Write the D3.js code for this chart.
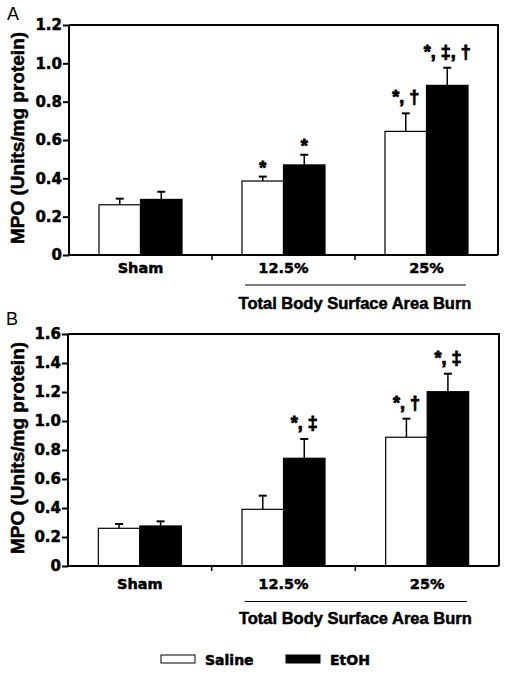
<!DOCTYPE html>
<html>
<head>
<meta charset="utf-8">
<script src="https://cdn.jsdelivr.net/npm/d3@7"></script>
<style>
  html, body { margin: 0; padding: 0; background: #fff; }
  svg { display: block; }
  .heavy { stroke: #000; stroke-width: 0.5px; paint-order: stroke; }
  .heavier { stroke: #000; stroke-width: 0.9px; paint-order: stroke; }
</style>
</head>
<body>
<svg id="chart" width="506" height="675"></svg>
<script>
// ---------------- data ----------------
const categories = ["Sham", "12.5%", "25%"];
const seriesNames = ["Saline", "EtOH"];

// Panel A
const panelA_yTicks = ["0", "0.2", "0.4", "0.6", "0.8", "1.0", "1.2"];
const panelA_saline = [0.262, 0.386, 0.645];
const panelA_salineErr = [0.032, 0.023, 0.094];
const panelA_etoh = [0.290, 0.470, 0.885];
const panelA_etohErr = [0.040, 0.053, 0.092];
const panelA_salineSig = ["", "*", "*, \u2020"];
const panelA_etohSig = ["", "*", "*, \u2021, \u2020"];

// Panel B
const panelB_yTicks = ["0", "0.2", "0.4", "0.6", "0.8", "1.0", "1.2", "1.4", "1.6"];
const panelB_saline = [0.260, 0.391, 0.888];
const panelB_salineErr = [0.030, 0.094, 0.128];
const panelB_etoh = [0.276, 0.743, 1.202];
const panelB_etohErr = [0.032, 0.133, 0.124];
const panelB_salineSig = ["", "", "*, \u2020"];
const panelB_etohSig = ["", "*, \u2021", "*, \u2021"];

const yLabel = "MPO (Units/mg protein)";
const groupLabel = "Total Body Surface Area Burn";

// ---------------- layout ----------------
const svg = d3.select("#chart");
const ARIAL = "'Liberation Sans', Arial, Helvetica, sans-serif";
const DEJAVU = "'DejaVu Sans', 'Liberation Sans', Arial, sans-serif";

const panels = [
  { letter: "A", letterY: 20, letterX: 7, left: 69, right: 498, top: 25, bottom: 255,
    ticks: panelA_yTicks, saline: panelA_saline, salineErr: panelA_salineErr,
    etoh: panelA_etoh, etohErr: panelA_etohErr, salineSig: panelA_salineSig, etohSig: panelA_etohSig,
    catY: 273, lineY: 285, groupY: 308.5 },
  { letter: "B", letterY: 325, letterX: 6, left: 68, right: 499, top: 334, bottom: 566,
    ticks: panelB_yTicks, saline: panelB_saline, salineErr: panelB_salineErr,
    etoh: panelB_etoh, etohErr: panelB_etohErr, salineSig: panelB_salineSig, etohSig: panelB_etohSig,
    catY: 589, lineY: 601.5, groupY: 623.5 }
];

panels.forEach(p => {
  const g = svg.append("g");
  const tickVals = p.ticks.map(Number);
  const y = d3.scaleLinear().domain([0, d3.max(tickVals)]).range([p.bottom, p.top]);
  const x = d3.scaleBand().domain(categories).range([p.left, p.right]).padding(0);
  const groupW = 83;
  const xs = d3.scaleBand().domain(seriesNames).range([0, groupW]).padding(0);
  const off = (x.bandwidth() - groupW) / 2;

  // panel letter
  g.append("text").attr("x", p.letterX).attr("y", p.letterY)
    .attr("font-family", ARIAL).attr("font-size", 18).attr("fill", "#000").text(p.letter);

  // y label
  g.append("text").attr("class", "heavy")
    .attr("transform", `translate(24,${(p.top + p.bottom) / 2 - 2}) rotate(-90)`)
    .attr("text-anchor", "middle")
    .attr("font-family", ARIAL).attr("font-weight", "bold").attr("font-size", 19)
    .text(yLabel);

  const rows = categories.map((c, i) => ([
    { cat: c, s: "Saline", v: p.saline[i], e: p.salineErr[i], sig: p.salineSig[i] },
    { cat: c, s: "EtOH", v: p.etoh[i], e: p.etohErr[i], sig: p.etohSig[i] }
  ])).flat();
  const cx = d => x(d.cat) + off + xs(d.s) + xs.bandwidth() / 2;

  // error bars (upward only)
  const eb = g.append("g").selectAll("g").data(rows).join("g");
  eb.append("line")
    .attr("x1", cx).attr("x2", cx)
    .attr("y1", d => y(d.v)).attr("y2", d => y(d.v + d.e))
    .attr("stroke", "#000").attr("stroke-width", 1.5);
  eb.append("line")
    .attr("x1", d => cx(d) - 4).attr("x2", d => cx(d) + 4)
    .attr("y1", d => y(d.v + d.e)).attr("y2", d => y(d.v + d.e))
    .attr("stroke", "#000").attr("stroke-width", 2);

  // bars
  g.append("g").selectAll("rect").data(rows).join("rect")
    .attr("x", d => x(d.cat) + off + xs(d.s))
    .attr("y", d => y(d.v))
    .attr("width", xs.bandwidth())
    .attr("height", d => y(0) - y(d.v))
    .attr("fill", d => d.s === "Saline" ? "#fff" : "#000")
    .attr("stroke", "#000").attr("stroke-width", 1.2);

  // significance marks
  g.append("g").selectAll("text").data(rows.filter(d => d.sig)).join("text")
    .attr("class", "heavier")
    .attr("x", cx)
    .attr("y", d => y(d.v + d.e) - (d.sig.length > 1 ? 10 : 3))
    .attr("text-anchor", "middle")
    .attr("font-family", ARIAL).attr("font-weight", "bold").attr("font-size", 18)
    .text(d => d.sig);

  // y axis
  const yAxis = g.append("g").attr("transform", `translate(${p.left},0)`)
    .call(d3.axisLeft(y).tickValues(tickVals).tickFormat((d, i) => p.ticks[i]).tickSize(6).tickPadding(1));
  yAxis.select(".domain").attr("stroke-width", 2).attr("d", `M0,${p.top}V${p.bottom}`);
  yAxis.selectAll(".tick line").attr("stroke-width", 2);
  yAxis.selectAll(".tick text").attr("class", "heavy").attr("font-family", DEJAVU).attr("font-weight", "bold")
    .attr("font-size", 15).attr("fill", "#000");

  // x axis (baseline + boundary ticks)
  const xAxis = g.append("g").attr("transform", `translate(0,${p.bottom})`)
    .call(d3.axisBottom(x).tickSize(0).tickPadding(0));
  xAxis.select(".domain").attr("stroke-width", 2).attr("d", `M${p.left - 1},0H${p.right}`);
  xAxis.selectAll(".tick text").attr("class", "heavy")
    .attr("y", p.catY - p.bottom).attr("dy", 0)
    .attr("font-family", DEJAVU).attr("font-weight", "bold").attr("font-size", 14.5).attr("fill", "#000");
  const bounds = categories.slice(1).map(c => x(c));
  xAxis.selectAll(".bound").data(bounds).join("line").attr("class", "bound")
    .attr("x1", d => d).attr("x2", d => d).attr("y1", 0).attr("y2", 5)
    .attr("stroke", "#000").attr("stroke-width", 1.5);

  // top & right frame
  g.append("path").attr("d", `M${p.left},${p.top}H${p.right}V${p.bottom}`)
    .attr("fill", "none").attr("stroke", "#000").attr("stroke-width", 2);

  // group label
  const gx0 = x(categories[1]) + 33;
  const gx1 = x(categories[2]) + x.bandwidth() - 32;
  g.append("line").attr("x1", gx0).attr("x2", gx1).attr("y1", p.lineY).attr("y2", p.lineY)
    .attr("stroke", "#000").attr("stroke-width", 1.2);
  g.append("text").attr("class", "heavy").attr("x", x(categories[2])).attr("y", p.groupY)
    .attr("text-anchor", "middle")
    .attr("font-family", ARIAL).attr("font-weight", "bold").attr("font-size", 16.5)
    .text(groupLabel);
});

// legend
const legend = svg.append("g");
const legendX = d3.scaleOrdinal().domain(seriesNames).range([161, 286]);
seriesNames.forEach(s => {
  legend.append("rect").attr("x", legendX(s)).attr("y", 655).attr("width", 34).attr("height", 8)
    .attr("fill", s === "Saline" ? "#fff" : "#000").attr("stroke", "#000").attr("stroke-width", 1);
  legend.append("text").attr("class", "heavy").attr("x", legendX(s) + 44).attr("y", 664.5)
    .attr("font-family", DEJAVU).attr("font-weight", "bold").attr("font-size", 14).text(s);
});
</script>
</body>
</html>
